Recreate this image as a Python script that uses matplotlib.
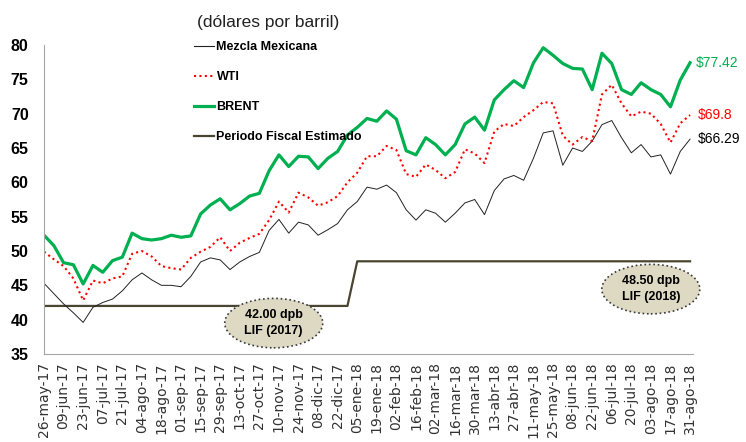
import numpy as np
import matplotlib.pyplot as plt
from matplotlib.patches import Ellipse
from matplotlib.lines import Line2D

# fechas de las etiquetas del eje x (cada 2 semanas)
fechas = ['26-may-17', '09-jun-17', '23-jun-17', '07-jul-17', '21-jul-17', '04-ago-17',
          '18-ago-17', '01-sep-17', '15-sep-17', '29-sep-17', '13-oct-17', '27-oct-17',
          '10-nov-17', '24-nov-17', '08-dic-17', '22-dic-17', '05-ene-18', '19-ene-18',
          '02-feb-18', '16-feb-18', '02-mar-18', '16-mar-18', '30-mar-18', '13-abr-18',
          '27-abr-18', '11-may-18', '25-may-18', '08-jun-18', '22-jun-18', '06-jul-18',
          '20-jul-18', '03-ago-18', '17-ago-18', '31-ago-18']

# precios semanales (dólares por barril)
brent = [52.3, 50.8, 48.3, 48.0, 45.2, 47.9, 46.9, 48.6, 49.1, 52.6, 51.8, 51.6,
         51.8, 52.3, 52.0, 52.2, 55.4, 56.7, 57.6, 56.0, 56.9, 58.0, 58.4, 61.7,
         64.0, 62.3, 63.8, 63.7, 62.0, 63.5, 64.5, 66.9, 68.0, 69.3, 68.9, 70.4,
         69.2, 64.6, 64.0, 66.5, 65.5, 64.0, 65.5, 68.5, 69.5, 67.6, 72.0, 73.5,
         74.8, 73.8, 77.4, 79.6, 78.5, 77.3, 76.6, 76.5, 73.5, 78.8, 77.3, 73.5,
         72.8, 74.5, 73.5, 72.8, 71.0, 74.9, 77.42]
wti = [49.9, 48.8, 47.8, 46.0, 42.8, 45.7, 45.3, 46.0, 46.3, 49.6, 50.0, 49.2,
       47.8, 47.5, 47.3, 49.0, 49.9, 50.6, 52.0, 50.0, 51.2, 51.9, 52.5, 54.5,
       57.2, 55.6, 58.5, 57.8, 56.6, 57.1, 58.0, 60.0, 61.4, 63.8, 63.8, 65.3,
       64.7, 61.2, 60.8, 62.6, 61.8, 60.6, 61.5, 64.8, 64.2, 62.8, 67.4, 68.5,
       68.2, 69.5, 70.5, 71.7, 71.5, 66.8, 65.5, 66.6, 66.0, 72.8, 74.2, 71.5,
       69.6, 70.3, 70.0, 68.5, 65.8, 68.6, 69.8]
mezcla = [45.3, 43.8, 42.3, 41.0, 39.6, 41.8, 42.5, 43.0, 44.2, 45.8, 46.8, 45.8,
          45.0, 45.0, 44.8, 46.3, 48.4, 49.0, 48.7, 47.3, 48.4, 49.2, 49.8, 53.0,
          54.6, 52.6, 54.2, 53.8, 52.3, 53.1, 54.0, 56.0, 57.2, 59.3, 59.0, 59.6,
          58.5, 56.0, 54.5, 56.0, 55.5, 54.2, 55.5, 57.0, 57.5, 55.3, 58.8, 60.5,
          61.0, 60.3, 63.5, 67.2, 67.5, 62.5, 65.0, 64.5, 66.0, 68.4, 69.0, 66.5,
          64.3, 65.5, 63.7, 64.0, 61.2, 64.5, 66.29]
fiscal = [42.0] * 32 + [48.5] * 35

x = np.arange(len(brent))

narrow = ['Liberation Sans', 'DejaVu Sans']
c_brent = '#00b050'
c_wti = '#ff0000'
c_mez = '#222222'
c_fis = '#4a4530'

fig = plt.figure(figsize=(7.46, 4.42), dpi=100)
ax = fig.add_axes([44/746, 1-354/442, 649/746, 309/442])

ax.plot(x, fiscal, color=c_fis, lw=1.6)
ax.plot(x, mezcla, color=c_mez, lw=0.7)
ax.plot(x, wti, color=c_wti, lw=1.5, ls=(0, (1, 1.6)))
ax.plot(x, brent, color=c_brent, lw=2.3)

ax.set_ylim(35, 80)
ax.set_xlim(0, len(x) - 1 + 0.3)
ax.set_yticks(range(35, 81, 5))
ax.set_yticklabels([str(v) for v in range(35, 81, 5)], fontfamily=narrow,
                   fontweight='bold', fontsize=11.5)
ax.set_xticks(x[::2])
ax.set_xticklabels(fechas, rotation=90, fontsize=10, color='#333333')
ax.tick_params(length=0, pad=6)
ax.tick_params(axis='y', pad=11)
for s in ['top', 'right']:
    ax.spines[s].set_visible(False)
for s in ['left', 'bottom']:
    ax.spines[s].set_color('#a6a6a6')

# valores finales
ax.text(x[-1] + 0.6, brent[-1], '$%.2f' % brent[-1], color=c_brent, fontsize=10,
        fontfamily=narrow, va='center', ha='left', clip_on=False)
ax.text(x[-1] + 0.8, wti[-1], '$%.1f' % wti[-1], color=c_wti, fontsize=10,
        fontfamily=narrow, va='center', ha='left', clip_on=False)
ax.text(x[-1] + 0.8, mezcla[-1], '$%.2f' % mezcla[-1], color='black', fontsize=10,
        fontfamily=narrow, va='center', ha='left', clip_on=False)

# leyenda
handles = [Line2D([], [], color=c_mez, lw=0.8),
           Line2D([], [], color=c_wti, lw=1.5, ls=(0, (1, 1.6))),
           Line2D([], [], color=c_brent, lw=2.3),
           Line2D([], [], color=c_fis, lw=1.6)]
labels = ['Mezcla Mexicana', 'WTI', 'BRENT', 'Periodo Fiscal Estimado']
fig.legend(handles, labels, loc='upper left', bbox_to_anchor=(194/746, 1-41/442),
           frameon=False, prop={'family': narrow, 'weight': 'bold', 'size': 9},
           handlelength=1.6, handletextpad=0.2, labelspacing=1.45,
           borderpad=0, borderaxespad=0)
fig.text(268/746, 1-22/442, '(dólares por barril)', fontfamily=narrow, fontsize=12.5,
         ha='center', va='center', color='#222222')

# globos de LIF
for cx, cy, txt in [(0.354, 0.100, '42.00 dpb\nLIF (2017)'),
                    (0.935, 0.210, '48.50 dpb\nLIF (2018)')]:
    e = Ellipse((cx, cy), 0.151, 0.160, transform=ax.transAxes, facecolor='#ddd9c3',
                edgecolor='#3a3a3a', lw=1.2, ls=':', clip_on=False, zorder=5)
    ax.add_patch(e)
    ax.text(cx, cy, txt, transform=ax.transAxes, ha='center', va='center',
            fontfamily=narrow, fontweight='bold', fontsize=9, linespacing=1.5,
            zorder=6)

fig.savefig('out.png', dpi=100)
